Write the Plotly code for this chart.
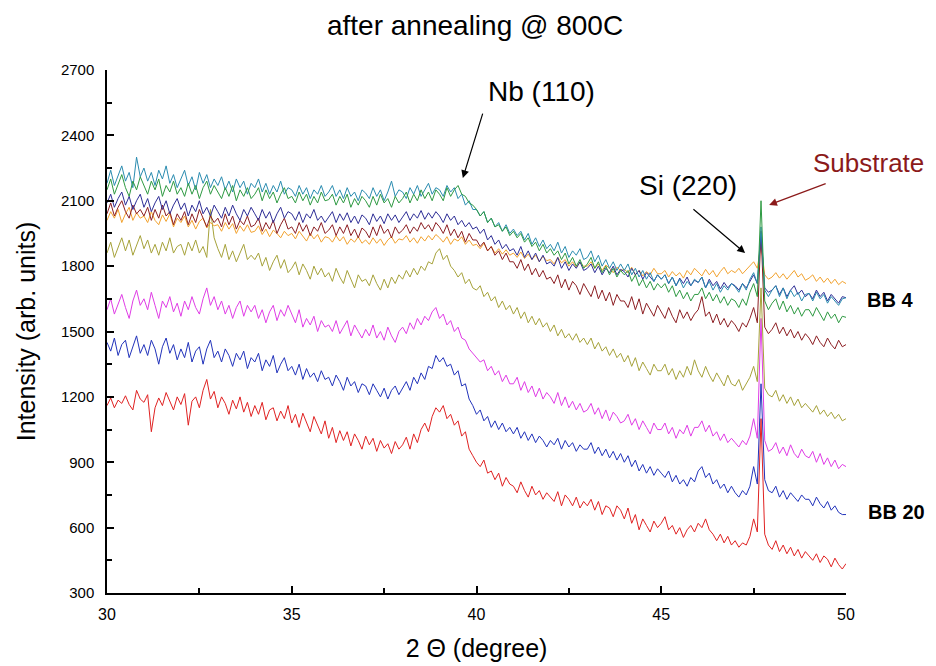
import numpy as np
import plotly.graph_objects as go

# 2-theta grid (degree), 0.1 step
two_theta = np.round(np.arange(30.0, 50.05, 0.1), 1)

red = [
    1160, 1195, 1150, 1185, 1170, 1205, 1165, 1140, 1230, 1190,
    1175, 1210, 1040, 1150, 1195, 1160, 1220, 1180, 1140, 1200,
    1165, 1215, 1070, 1180, 1200, 1150, 1230, 1280, 1190, 1225,
    1150, 1200, 1170, 1120, 1185, 1145, 1200, 1130, 1175, 1110,
    1160, 1120, 1175, 1095, 1140, 1150, 1090, 1135, 1100, 1160,
    1080, 1120, 1060, 1125, 1085, 1040, 1110, 1070, 1030, 1090,
    1010, 1060, 990, 1045, 1000, 1040, 975, 1030, 1000, 960,
    1020, 980, 1010, 950, 1000, 965, 985, 940, 995, 960,
    980, 1015, 960, 1030, 990, 1050, 1080, 1040, 1110, 1150,
    1130, 1160, 1100, 1120, 1070, 1090, 1020, 1040, 960, 930,
    900, 880, 910, 850, 860, 820, 850, 790, 830, 800,
    790, 760, 810, 770, 740, 790, 750, 770, 730, 760,
    740, 720, 765, 700, 750, 730, 700, 740, 690, 720,
    700, 730, 680, 720, 660, 700, 690, 650, 700, 680,
    640, 690, 620, 660, 590, 640, 610, 580, 630, 600,
    620, 650, 590, 610, 570, 600, 555, 590, 610, 580,
    620, 600, 640, 590, 570, 540, 570, 530, 560, 520,
    540, 510, 530, 520, 560, 640, 580, 1100, 570, 520,
    500, 540, 490, 520, 480, 510, 470, 500, 460, 490,
    470, 450, 480, 440, 470, 455, 420, 460, 430, 410,
    435,
]

blue = [
    1450, 1410, 1470, 1390, 1440, 1460, 1380, 1430, 1480, 1400,
    1440, 1390, 1460, 1420, 1350, 1430, 1470, 1400, 1440, 1370,
    1420, 1380, 1450, 1360, 1410, 1430, 1350, 1420, 1460, 1380,
    1410, 1360, 1420, 1390, 1340, 1400, 1370, 1410, 1330, 1380,
    1360, 1400, 1320, 1370, 1340, 1390, 1310, 1350, 1380, 1320,
    1340, 1300, 1350, 1280, 1330, 1290, 1310, 1270, 1320, 1280,
    1290, 1250, 1300, 1270, 1230, 1290, 1250, 1270, 1220, 1260,
    1250, 1210, 1260, 1230, 1200, 1240, 1190, 1230, 1250, 1210,
    1240, 1270, 1230, 1290, 1260, 1310, 1280, 1340, 1330, 1390,
    1360, 1380, 1340, 1350, 1300, 1320, 1250, 1260, 1190, 1160,
    1120, 1140, 1090, 1110, 1060, 1090, 1050, 1080, 1040, 1060,
    1030, 1060, 1010, 1040, 1000, 1030, 990, 1020, 1000, 970,
    1000, 980, 1010, 960, 1000, 970, 990, 950, 980, 960,
    960, 990, 940, 970, 930, 960, 920, 950, 910, 940,
    900, 930, 880, 910, 860, 890, 850, 880, 840, 870,
    850, 830, 860, 810, 840, 800, 820, 790, 830, 810,
    860, 880, 830, 850, 800, 820, 780, 800, 760, 790,
    760, 740, 770, 750, 790, 880, 800, 1260, 820, 770,
    760, 790, 740, 770, 730, 760, 740, 720, 750, 730,
    730, 700, 740, 710, 690, 720, 680, 700, 670, 660,
    660,
]

magenta = [
    1600, 1650, 1580, 1630, 1670, 1610, 1560, 1640, 1690, 1620,
    1650, 1600, 1680, 1620, 1560, 1640, 1610, 1660, 1590, 1630,
    1570, 1640, 1600, 1660, 1610, 1580, 1650, 1700, 1620, 1660,
    1600, 1640, 1580, 1620, 1560, 1610, 1640, 1570, 1620, 1590,
    1620, 1560, 1600, 1540, 1590, 1620, 1550, 1600, 1570, 1620,
    1580, 1540, 1600, 1520, 1560, 1530, 1570, 1500, 1550, 1520,
    1530, 1500, 1550, 1490, 1520, 1550, 1480, 1530, 1500, 1470,
    1510, 1480, 1530, 1470, 1500, 1460, 1520, 1480, 1450, 1500,
    1520, 1490, 1540, 1510, 1560, 1530, 1570, 1550, 1590, 1610,
    1560, 1580, 1530, 1550, 1500, 1520, 1470, 1460, 1420, 1400,
    1380, 1360, 1370, 1320, 1340, 1300, 1320, 1270, 1300, 1260,
    1260, 1290, 1230, 1270, 1220, 1250, 1200, 1240, 1190, 1220,
    1200, 1170, 1220, 1160, 1200, 1150, 1180, 1140, 1170, 1130,
    1140, 1170, 1120, 1150, 1100, 1140, 1090, 1130, 1110, 1080,
    1090, 1120, 1070, 1100, 1050, 1090, 1060, 1030, 1080, 1050,
    1050, 1080, 1030, 1060, 1010, 1050, 1030, 1070, 1020, 1060,
    1060, 1090, 1040, 1070, 1020, 1040, 1000, 1030, 990, 1010,
    990, 970, 1000, 980, 1020, 1100, 1010, 1560, 1000, 950,
    960, 990, 940, 970, 930, 980, 940, 920, 960, 930,
    920, 950, 900, 940, 890, 920, 880, 910, 870, 890,
    880,
]

olive = [
    1860, 1910, 1840, 1890, 1930, 1870, 1920, 1850, 1900, 1940,
    1880, 1920, 1860, 1900, 1850, 1910, 1870, 1930, 1860, 1890,
    1900, 1850, 1910, 1870, 1920, 1860, 1890, 1840, 2060, 1930,
    1880, 1840, 1900, 1830, 1870, 1820, 1860, 1900, 1830, 1850,
    1830, 1860, 1800, 1840, 1780, 1820, 1850, 1790, 1830, 1770,
    1790, 1820, 1760, 1810, 1780, 1740, 1800, 1760, 1790, 1750,
    1770, 1730, 1790, 1750, 1720, 1780, 1740, 1700, 1760, 1730,
    1740, 1710, 1760, 1720, 1690, 1740, 1700, 1750, 1720, 1760,
    1740, 1780, 1750, 1790, 1760, 1800, 1780, 1820, 1810, 1860,
    1880, 1830, 1850, 1800, 1780, 1750, 1770, 1720, 1740, 1700,
    1690, 1710, 1660, 1680, 1640, 1660, 1610, 1640, 1600, 1620,
    1580, 1610, 1560, 1590, 1540, 1570, 1530, 1560, 1520, 1540,
    1500, 1530, 1480, 1510, 1470, 1490, 1460, 1490, 1450, 1470,
    1440, 1470, 1420, 1450, 1410, 1430, 1390, 1420, 1380, 1400,
    1360, 1390, 1340, 1380, 1320, 1360, 1330, 1300, 1350, 1320,
    1320, 1350, 1300, 1330, 1280, 1320, 1290, 1340, 1300, 1370,
    1320, 1290, 1340, 1300, 1270, 1310, 1280, 1250, 1300, 1260,
    1250, 1280, 1230, 1260, 1290, 1340, 1270, 1700, 1240, 1210,
    1200, 1230, 1180, 1210, 1170, 1200, 1160, 1190, 1150, 1170,
    1150, 1130, 1160, 1120, 1140, 1110, 1130, 1100, 1120, 1090,
    1100,
]

orange = [
    2010, 2050, 2020, 2060, 2000, 2040, 2070, 2010, 2045, 2020,
    2030, 2000, 2050, 2010, 1990, 2035, 2005, 2040, 1980, 2020,
    2000, 2030, 1980, 2010, 1970, 2005, 2020, 1975, 2000, 1985,
    1990, 1960, 2000, 1970, 1995, 1950, 1985, 1960, 1990, 1955,
    1960, 1985, 1945, 1970, 1935, 1965, 1950, 1930, 1960, 1940,
    1950, 1925, 1960, 1935, 1915, 1950, 1925, 1945, 1910, 1935,
    1930, 1910, 1940, 1915, 1935, 1900, 1925, 1910, 1935, 1905,
    1920, 1900, 1930, 1905, 1925, 1895, 1920, 1935, 1905, 1925,
    1920, 1940, 1910, 1930, 1905, 1935, 1915, 1940, 1920, 1945,
    1930, 1910, 1935, 1900, 1925, 1915, 1935, 1900, 1920, 1895,
    1900, 1880, 1905, 1870, 1890, 1860, 1880, 1855, 1875, 1850,
    1860, 1840, 1865, 1835, 1855, 1830, 1850, 1820, 1845, 1825,
    1830, 1810, 1840, 1815, 1830, 1800, 1820, 1795, 1815, 1800,
    1800, 1820, 1790, 1810, 1780, 1805, 1790, 1770, 1795, 1780,
    1785, 1770, 1795, 1760, 1780, 1755, 1775, 1760, 1790, 1765,
    1765, 1780, 1750, 1775, 1755, 1770, 1745, 1780, 1760, 1790,
    1770, 1755, 1785, 1760, 1780, 1750, 1775, 1795, 1765, 1780,
    1770, 1790, 1765, 1785, 1800, 1820, 1790, 1900, 1760, 1740,
    1750, 1770, 1745, 1765, 1740, 1760, 1780, 1750, 1765, 1735,
    1745, 1760, 1730, 1750, 1725, 1745, 1720, 1740, 1715, 1730,
    1720,
]

maroon = [
    2040, 2090, 2030, 2070, 2100, 2050, 2020, 2080, 2040, 2060,
    2030, 2070, 2010, 2060, 2020, 2080, 2030, 2050, 1990, 2040,
    2010, 2050, 1990, 2040, 2000, 2060, 2020, 1980, 2030, 2000,
    2020, 1980, 2040, 1990, 2030, 1970, 2010, 1990, 2030, 1980,
    1990, 2020, 1960, 2000, 1970, 2010, 1950, 1990, 2020, 1970,
    1980, 1950, 2000, 1960, 1990, 1940, 1980, 1960, 2000, 1950,
    1965, 1990, 1940, 1980, 1950, 1990, 1940, 1970, 1930, 1975,
    1960, 1930, 1980, 1940, 1990, 1950, 1970, 1930, 1980, 1950,
    1965, 1990, 1950, 1980, 1960, 2000, 1970, 1990, 1960, 2000,
    1980, 1950, 1990, 1940, 1970, 1930, 1960, 1910, 1950, 1920,
    1920, 1890, 1910, 1870, 1890, 1850, 1870, 1830, 1860, 1820,
    1820, 1790, 1830, 1780, 1810, 1760, 1790, 1750, 1780, 1740,
    1750, 1720, 1760, 1700, 1740, 1690, 1730, 1710, 1670, 1720,
    1690, 1660, 1710, 1650, 1690, 1640, 1680, 1620, 1670, 1640,
    1640, 1610, 1660, 1600, 1650, 1580, 1630, 1600, 1570, 1620,
    1590, 1560, 1610, 1570, 1540, 1600, 1560, 1590, 1550, 1580,
    1600, 1660, 1570, 1590, 1540, 1580, 1530, 1560, 1520, 1550,
    1530, 1500, 1540, 1520, 1560, 1610, 1540, 1960, 1520, 1490,
    1510, 1540, 1490, 1520, 1480, 1510, 1470, 1500, 1460, 1490,
    1470, 1440, 1480, 1450, 1430, 1470, 1440, 1420, 1460, 1430,
    1440,
]

navy = [
    2090, 2130, 2070, 2110, 2140, 2080, 2120, 2060, 2100, 2130,
    2070, 2110, 2050, 2090, 2120, 2060, 2100, 2040, 2080, 2110,
    2060, 2090, 2030, 2080, 2050, 2100, 2040, 2070, 2030, 2080,
    2050, 2020, 2070, 2030, 2080, 2040, 2010, 2060, 2030, 2070,
    2040, 2010, 2060, 2020, 2050, 2000, 2040, 2070, 2020, 2050,
    2040, 2010, 2050, 2000, 2040, 2020, 2060, 2010, 2030, 2000,
    2025, 2050, 2000, 2040, 2010, 2045, 2000, 2030, 1995, 2035,
    2020, 1990, 2040, 2005, 2030, 1995, 2040, 2010, 2035, 2000,
    2025, 2050, 2010, 2040, 2020, 2055, 2015, 2045, 2020, 2050,
    2030, 2000, 2040, 2010, 2030, 1990, 2010, 1980, 2000, 1970,
    1980, 1950, 1970, 1920, 1940, 1900, 1920, 1880, 1900, 1870,
    1880, 1850, 1890, 1840, 1870, 1830, 1860, 1820, 1850, 1810,
    1820, 1800, 1840, 1790, 1820, 1780, 1810, 1790, 1820, 1780,
    1790, 1810, 1770, 1800, 1760, 1790, 1770, 1800, 1760, 1785,
    1775, 1750, 1790, 1760, 1780, 1740, 1770, 1750, 1730, 1760,
    1740, 1760, 1720, 1750, 1710, 1745, 1720, 1750, 1710, 1735,
    1725, 1750, 1700, 1740, 1710, 1730, 1695, 1725, 1700, 1720,
    1710, 1690, 1720, 1700, 1730, 1760, 1720, 1950, 1700, 1680,
    1690, 1710, 1670, 1700, 1660, 1690, 1710, 1670, 1690, 1660,
    1675, 1650, 1690, 1660, 1680, 1640, 1670, 1650, 1630, 1660,
    1655,
]

teal = [
    2180, 2240, 2170, 2220, 2260, 2190, 2230, 2160, 2300, 2210,
    2250, 2190, 2230, 2170, 2240, 2200, 2260, 2180, 2220, 2160,
    2200, 2240, 2170, 2210, 2150, 2230, 2180, 2220, 2160, 2200,
    2170, 2210, 2150, 2190, 2140, 2200, 2160, 2190, 2130, 2180,
    2160, 2200, 2140, 2180, 2130, 2170, 2140, 2190, 2130, 2160,
    2150, 2120, 2170, 2130, 2160, 2110, 2150, 2130, 2170, 2120,
    2140, 2170, 2120, 2150, 2110, 2160, 2120, 2140, 2100, 2150,
    2135, 2110, 2160, 2120, 2150, 2100, 2140, 2190, 2120, 2150,
    2140, 2110, 2160, 2130, 2170, 2120, 2150, 2180, 2130, 2160,
    2150, 2120, 2170, 2140, 2160, 2110, 2130, 2080, 2100, 2060,
    2060, 2030, 2050, 2000, 2020, 1980, 2000, 1960, 1990, 1950,
    1970, 1940, 1960, 1920, 1950, 1900, 1930, 1890, 1920, 1880,
    1900, 1870, 1910, 1860, 1890, 1840, 1870, 1850, 1880, 1830,
    1840, 1870, 1820, 1850, 1800, 1830, 1790, 1820, 1780, 1810,
    1780, 1810, 1760, 1790, 1750, 1780, 1740, 1770, 1730, 1760,
    1740, 1760, 1720, 1750, 1710, 1740, 1700, 1730, 1710, 1740,
    1725, 1750, 1700, 1730, 1690, 1720, 1680, 1710, 1690, 1720,
    1705, 1680, 1720, 1690, 1740, 1770, 1720, 1980, 1690, 1660,
    1690, 1710, 1660, 1700, 1650, 1690, 1660, 1680, 1640, 1670,
    1675, 1640, 1680, 1650, 1670, 1630, 1660, 1640, 1620, 1650,
    1655,
]

green = [
    2150, 2200, 2130, 2180, 2220, 2160, 2120, 2190, 2150, 2210,
    2170, 2130, 2190, 2150, 2200, 2120, 2170, 2140, 2190, 2130,
    2160, 2120, 2180, 2130, 2170, 2110, 2160, 2190, 2130, 2170,
    2140, 2110, 2160, 2120, 2170, 2100, 2150, 2120, 2160, 2110,
    2130, 2160, 2100, 2150, 2110, 2140, 2090, 2130, 2160, 2110,
    2120, 2090, 2140, 2100, 2130, 2080, 2120, 2090, 2140, 2100,
    2105, 2130, 2080, 2120, 2090, 2130, 2070, 2110, 2080, 2120,
    2100, 2070, 2120, 2080, 2130, 2090, 2110, 2070, 2120, 2090,
    2110, 2140, 2090, 2130, 2100, 2150, 2110, 2140, 2100, 2150,
    2130, 2100, 2160, 2120, 2150, 2170, 2130, 2120, 2090, 2080,
    2060, 2030, 2050, 2000, 2020, 1980, 1990, 1960, 1980, 1940,
    1960, 1930, 1950, 1910, 1930, 1890, 1910, 1870, 1900, 1860,
    1880, 1850, 1870, 1830, 1860, 1810, 1840, 1800, 1830, 1790,
    1810, 1840, 1790, 1820, 1770, 1800, 1760, 1790, 1750, 1780,
    1760, 1780, 1730, 1760, 1710, 1740, 1700, 1730, 1690, 1720,
    1700, 1720, 1680, 1710, 1660, 1690, 1650, 1680, 1640, 1670,
    1670, 1700, 1650, 1680, 1640, 1670, 1630, 1660, 1620, 1650,
    1640, 1610, 1650, 1620, 1680, 1720, 1660, 2100, 1640, 1600,
    1630, 1650, 1600, 1640, 1590, 1620, 1580, 1610, 1570, 1600,
    1600, 1570, 1610, 1580, 1550, 1590, 1560, 1580, 1540, 1570,
    1565,
]

# drawn bottom first so the green Si peak ends up on top
series = [
    ("red", red, "#e02222"),
    ("blue", blue, "#2233bb"),
    ("magenta", magenta, "#e03ce6"),
    ("olive", olive, "#a6a23a"),
    ("orange", orange, "#f2a22e"),
    ("maroon", maroon, "#8c1e22"),
    ("navy", navy, "#2e2e96"),
    ("teal", teal, "#2a8cb0"),
    ("green", green, "#2e9a42"),
]

fig = go.Figure()
for name, vals, col in series:
    fig.add_trace(go.Scatter(x=two_theta, y=vals, mode="lines", name=name,
                             line=dict(color=col, width=1)))

font = "Arial, Liberation Sans, sans-serif"

# text labels (ones outside the axes use paper coords)
fig.add_annotation(x=41.77, y=2600, text="Nb (110)", showarrow=False,
                   font=dict(size=28, color="black"))
fig.add_annotation(x=45.72, y=2168, text="Si (220)", showarrow=False,
                   font=dict(size=28, color="black"))
fig.add_annotation(x=1.031, y=0.822, xref="paper", yref="paper",
                   xanchor="center", yanchor="middle",
                   text="Substrate", showarrow=False,
                   font=dict(size=26, color="#8b1a1a"))
fig.add_annotation(x=1.0595, y=0.560, xref="paper", yref="paper",
                   xanchor="center", yanchor="middle",
                   text="<b>BB 4</b>", showarrow=False,
                   font=dict(size=20, color="black"))
fig.add_annotation(x=1.069, y=0.155, xref="paper", yref="paper",
                   xanchor="center", yanchor="middle",
                   text="<b>BB 20</b>", showarrow=False,
                   font=dict(size=20, color="black"))

# arrows
arrows = [
    (39.63, 2204, 40.18, 2507, "black"),
    (47.27, 1860, 45.83, 2067, "black"),
    (47.92, 2081, 49.49, 2181, "#8b1a1a"),
]
for hx, hy, tx, ty, col in arrows:
    fig.add_annotation(x=hx, y=hy, ax=tx, ay=ty, xref="x", yref="y",
                       axref="x", ayref="y", text="", showarrow=True,
                       arrowhead=2, arrowsize=1.3, arrowwidth=1.2,
                       arrowcolor=col)

fig.update_layout(
    width=936, height=666,
    margin=dict(l=99, r=98, t=62, b=81),
    paper_bgcolor="white", plot_bgcolor="white",
    showlegend=False,
    font=dict(family=font, color="black"),
    title=dict(text="after annealing @ 800C", x=0.499, xanchor="center",
               y=0.9745, yanchor="middle", font=dict(size=28, color="black")),
)
fig.update_xaxes(
    range=[30, 50], dtick=5, tick0=30, showgrid=False, zeroline=False,
    showline=True, linecolor="black", linewidth=1.5,
    ticks="inside", ticklen=7, tickwidth=1.5, tickcolor="black",
    minor=dict(dtick=2.5, ticks="inside", ticklen=5, tickwidth=1.5, tickcolor="black"),
    tickfont=dict(size=16), ticklabelstandoff=6,
    title=dict(text="2 \u0398 (degree)", font=dict(size=25), standoff=18),
)
fig.update_yaxes(
    range=[300, 2700], dtick=300, tick0=300, showgrid=False, zeroline=False,
    showline=True, linecolor="black", linewidth=1.5,
    ticks="inside", ticklen=7, tickwidth=1.5, tickcolor="black",
    minor=dict(dtick=150, ticks="inside", ticklen=5, tickwidth=1.5, tickcolor="black"),
    tickfont=dict(size=15), ticklabelstandoff=8,
    title=dict(text="Intensity (arb. units)", font=dict(size=25), standoff=18),
)

fig.write_html("out.html")
